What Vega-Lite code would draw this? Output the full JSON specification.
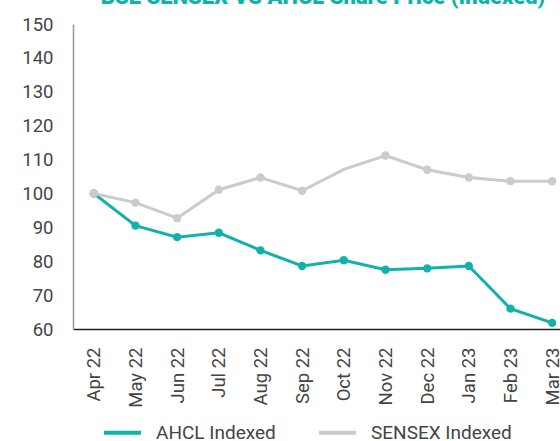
{
  "$schema": "https://vega.github.io/schema/vega-lite/v6.json",
  "width": 500,
  "height": 305,
  "autosize": {"type": "none"},
  "padding": {"left": 73, "top": 24, "right": 0, "bottom": 112},
  "background": "white",
  "title": {
    "text": "BSE SENSEX VS AHCL Share Price (Indexed)",
    "color": "#12B2AA",
    "font": "Roboto",
    "fontSize": 22,
    "fontWeight": 900,
    "anchor": "middle",
    "baseline": "bottom",
    "offset": 0,
    "dy": 16
  },
  "config": {
    "view": {"stroke": null},
    "font": "Roboto",
    "axis": {"labelColor": "#444444", "labelFontSize": 18.5, "grid": false, "ticks": false, "title": null}
  },
  "data": {
    "values": [
      {"month": "Apr 22", "series": "AHCL Indexed", "value": 100},
      {"month": "May 22", "series": "AHCL Indexed", "value": 90.5},
      {"month": "Jun 22", "series": "AHCL Indexed", "value": 87.1},
      {"month": "Jul 22", "series": "AHCL Indexed", "value": 88.4},
      {"month": "Aug 22", "series": "AHCL Indexed", "value": 83.2},
      {"month": "Sep 22", "series": "AHCL Indexed", "value": 78.6},
      {"month": "Oct 22", "series": "AHCL Indexed", "value": 80.3},
      {"month": "Nov 22", "series": "AHCL Indexed", "value": 77.5},
      {"month": "Dec 22", "series": "AHCL Indexed", "value": 77.9},
      {"month": "Jan 23", "series": "AHCL Indexed", "value": 78.6},
      {"month": "Feb 23", "series": "AHCL Indexed", "value": 66.0},
      {"month": "Mar 23", "series": "AHCL Indexed", "value": 61.8},
      {"month": "Apr 22", "series": "SENSEX Indexed", "value": 100},
      {"month": "May 22", "series": "SENSEX Indexed", "value": 97.3},
      {"month": "Jun 22", "series": "SENSEX Indexed", "value": 92.7},
      {"month": "Jul 22", "series": "SENSEX Indexed", "value": 101.1},
      {"month": "Aug 22", "series": "SENSEX Indexed", "value": 104.7},
      {"month": "Sep 22", "series": "SENSEX Indexed", "value": 100.8},
      {"month": "Oct 22", "series": "SENSEX Indexed", "value": 107.1},
      {"month": "Nov 22", "series": "SENSEX Indexed", "value": 111.2},
      {"month": "Dec 22", "series": "SENSEX Indexed", "value": 107.0},
      {"month": "Jan 23", "series": "SENSEX Indexed", "value": 104.7},
      {"month": "Feb 23", "series": "SENSEX Indexed", "value": 103.6},
      {"month": "Mar 23", "series": "SENSEX Indexed", "value": 103.6}
    ]
  },
  "encoding": {
    "x": {
      "field": "month",
      "type": "ordinal",
      "sort": null,
      "scale": {"type": "point", "padding": 0.5},
      "axis": {"labelAngle": -90, "labelPadding": 18, "domainColor": "#222222", "domainWidth": 1.5}
    },
    "y": {
      "field": "value",
      "type": "quantitative",
      "scale": {"domain": [60, 150], "nice": false, "zero": false},
      "axis": {"values": [60, 70, 80, 90, 100, 110, 120, 130, 140, 150], "labelPadding": 20, "domainColor": "#999999", "domainWidth": 1.5}
    },
    "color": {
      "field": "series",
      "type": "nominal",
      "scale": {"domain": ["AHCL Indexed", "SENSEX Indexed"], "range": ["#12B2AA", "#CBCBCB"]},
      "legend": {
        "title": null,
        "orient": "none",
        "direction": "horizontal",
        "legendX": 29,
        "legendY": 388,
        "symbolType": "stroke",
        "symbolSize": 1369,
        "symbolStrokeWidth": 4,
        "labelFontSize": 19,
        "labelColor": "#444444",
        "labelOffset": 13,
        "columnPadding": 35
      }
    }
  },
  "layer": [
    {"mark": {"type": "line", "strokeWidth": 3}},
    {
      "transform": [{"filter": "!(datum.series == 'SENSEX Indexed' && datum.month == 'Oct 22')"}],
      "mark": {"type": "point", "filled": true, "size": 70, "opacity": 1}
    }
  ]
}
